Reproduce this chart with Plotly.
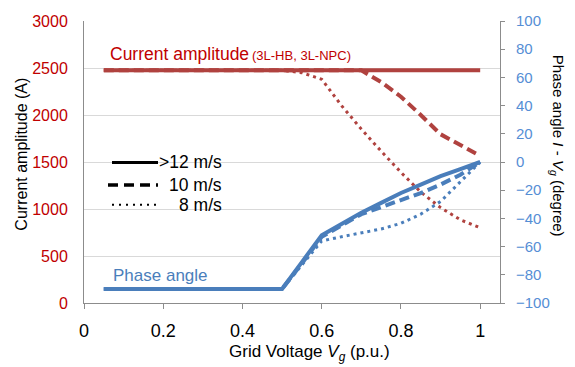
import plotly.graph_objects as go

# ---------------- data ----------------
vg = [0.05, 0.10, 0.15, 0.20, 0.25, 0.30, 0.35, 0.40, 0.45, 0.50,
      0.55, 0.60, 0.65, 0.70, 0.75, 0.80, 0.85, 0.90, 0.95, 1.00]

cur_12 = [2475, 2475, 2475, 2475, 2475, 2475, 2475, 2475, 2475, 2475,
          2475, 2475, 2475, 2475, 2475, 2475, 2475, 2475, 2475, 2475]
cur_10 = [2475, 2475, 2475, 2475, 2475, 2475, 2475, 2475, 2475, 2475,
          2475, 2475, 2475, 2475, 2350, 2195, 2000, 1795, 1680, 1565]
cur_8 = [2475, 2475, 2475, 2475, 2475, 2475, 2475, 2475, 2475, 2475,
         2450, 2380, 2100, 1850, 1615, 1390, 1180, 1015, 885, 800]

ph_12 = [-90, -90, -90, -90, -90, -90, -90, -90, -90, -90,
         -71, -52, -44, -36, -29, -22, -16, -10, -5, 0]
ph_10 = [-90, -90, -90, -90, -90, -90, -90, -90, -90, -90,
         -72, -53, -45, -37, -32, -27, -22, -16, -9, 0]
ph_8 = [-90, -90, -90, -90, -90, -90, -90, -90, -90, -90,
        -73, -56, -53, -50, -47.5, -43.5, -37, -28, -14, 0]

x_ticks = [0, 0.2, 0.4, 0.6, 0.8, 1]
x_ticklabels = ["0", "0.2", "0.4", "0.6", "0.8", "1"]
y1_ticks = [0, 500, 1000, 1500, 2000, 2500, 3000]
y2_ticks = [-100, -80, -60, -40, -20, 0, 20, 40, 60, 80, 100]

legend_labels = [">12 m/s", "10 m/s", "8 m/s"]

# ---------------- style ----------------
RED = "#B0423F"
BLUE = "#4A7EBB"
RED_TXT = "#C00000"
BLUE_TXT = "#558ED5"
FONT = "Liberation Sans, Arial, sans-serif"

W, H = 575, 367
ML, MR, MT, MB = 84, 75, 16, 64
PW, PH = W - ML - MR, H - MT - MB


def px(x):
    return (x - ML) / PW


def py(y):
    return (H - MB - y) / PH


fig = go.Figure()

dash_10 = "10px,5px"
dash_8 = "3px,4px"

# current amplitude (left axis)
fig.add_trace(go.Scatter(x=vg, y=cur_8, mode="lines", line=dict(color=RED, width=3, dash=dash_8), yaxis="y"))
fig.add_trace(go.Scatter(x=vg, y=cur_10, mode="lines", line=dict(color=RED, width=4, dash=dash_10), yaxis="y"))
fig.add_trace(go.Scatter(x=vg, y=cur_12, mode="lines", line=dict(color=RED, width=4), yaxis="y"))
# phase angle (right axis)
fig.add_trace(go.Scatter(x=vg, y=ph_8, mode="lines", line=dict(color=BLUE, width=3, dash=dash_8), yaxis="y2"))
fig.add_trace(go.Scatter(x=vg, y=ph_10, mode="lines", line=dict(color=BLUE, width=4, dash=dash_10), yaxis="y2"))
fig.add_trace(go.Scatter(x=vg, y=ph_12, mode="lines", line=dict(color=BLUE, width=4), yaxis="y2"))

shapes = []
annotations = []

# legend samples (black)
leg_rows = [160, 183, 203]
leg_styles = [dict(width=3, dash="solid"), dict(width=3.5, dash="10px,6px"), dict(width=2, dash="2px,5px")]
leg_x0 = [112, 108, 112]
for lab, yy, st, x0 in zip(legend_labels, leg_rows, leg_styles, leg_x0):
    shapes.append(dict(type="line", xref="paper", yref="paper",
                       x0=px(x0), x1=px(158), y0=py(yy), y1=py(yy),
                       line=dict(color="black", width=st["width"], dash=st["dash"])))
    annotations.append(dict(xref="paper", yref="paper", x=px(224), y=py(yy),
                            text=lab, showarrow=False, xanchor="right", yanchor="middle",
                            font=dict(family=FONT, size=17.5, color="black")))

annotations.append(dict(xref="paper", yref="paper", x=px(108), y=py(50),
                        text="Current amplitude",
                        showarrow=False, xanchor="left", yanchor="middle",
                        font=dict(family=FONT, size=17.5, color=RED_TXT)))
annotations.append(dict(xref="paper", yref="paper", x=px(250), y=py(51),
                        text="(3L-HB, 3L-NPC)",
                        showarrow=False, xanchor="left", yanchor="middle",
                        font=dict(family=FONT, size=13, color=RED_TXT)))
annotations.append(dict(xref="paper", yref="paper", x=px(111), y=py(275),
                        text="Phase angle", showarrow=False, xanchor="left", yanchor="middle",
                        font=dict(family=FONT, size=17, color=BLUE)))
# axis titles
annotations.append(dict(xref="paper", yref="paper", x=px(22), y=py(152),
                        text="Current amplitude (A)", showarrow=False, textangle=-90,
                        xanchor="center", yanchor="middle",
                        font=dict(family=FONT, size=16, color="black")))
annotations.append(dict(xref="paper", yref="paper", x=px(557), y=py(143),
                        text="Phase angle <i>I</i> - <i>V<sub>g</sub></i> (degree)", showarrow=False,
                        textangle=90, xanchor="center", yanchor="middle",
                        font=dict(family=FONT, size=15, color="black")))
annotations.append(dict(xref="paper", yref="paper", x=px(309), y=py(354),
                        text="Grid Voltage <i>V<sub>g</sub></i> (p.u.)", showarrow=False,
                        xanchor="center", yanchor="middle",
                        font=dict(family=FONT, size=17, color="black")))

fig.update_layout(
    width=W, height=H,
    margin=dict(l=ML, r=MR, t=MT, b=MB),
    paper_bgcolor="white", plot_bgcolor="white",
    showlegend=False,
    font=dict(family=FONT, size=16),
    shapes=shapes,
    annotations=annotations,
    xaxis=dict(range=[0, 1.05], tickvals=x_ticks, ticktext=x_ticklabels,
               showgrid=False, zeroline=False,
               showline=True, linecolor="#8C8C8C", linewidth=1,
               ticks="outside", ticklen=5, tickcolor="#8C8C8C",
               ticklabelstandoff=6,
               tickfont=dict(family=FONT, size=18, color="black")),
    yaxis=dict(range=[0, 3000], tickvals=y1_ticks,
               showgrid=True, gridcolor="#D9D9D9", gridwidth=1, zeroline=False,
               showline=True, linecolor="#8C8C8C", linewidth=1,
               ticks="", ticklabelstandoff=12,
               tickfont=dict(family=FONT, size=16, color=RED_TXT)),
    yaxis2=dict(range=[-100, 100], tickvals=y2_ticks, overlaying="y", side="right",
                showgrid=False, zeroline=False,
                showline=True, linecolor="#8C8C8C", linewidth=1,
                ticks="outside", ticklen=4, tickcolor="#8C8C8C",
                ticklabelstandoff=8,
                tickfont=dict(family=FONT, size=15, color=BLUE_TXT)),
)

fig.write_html("out.html")
